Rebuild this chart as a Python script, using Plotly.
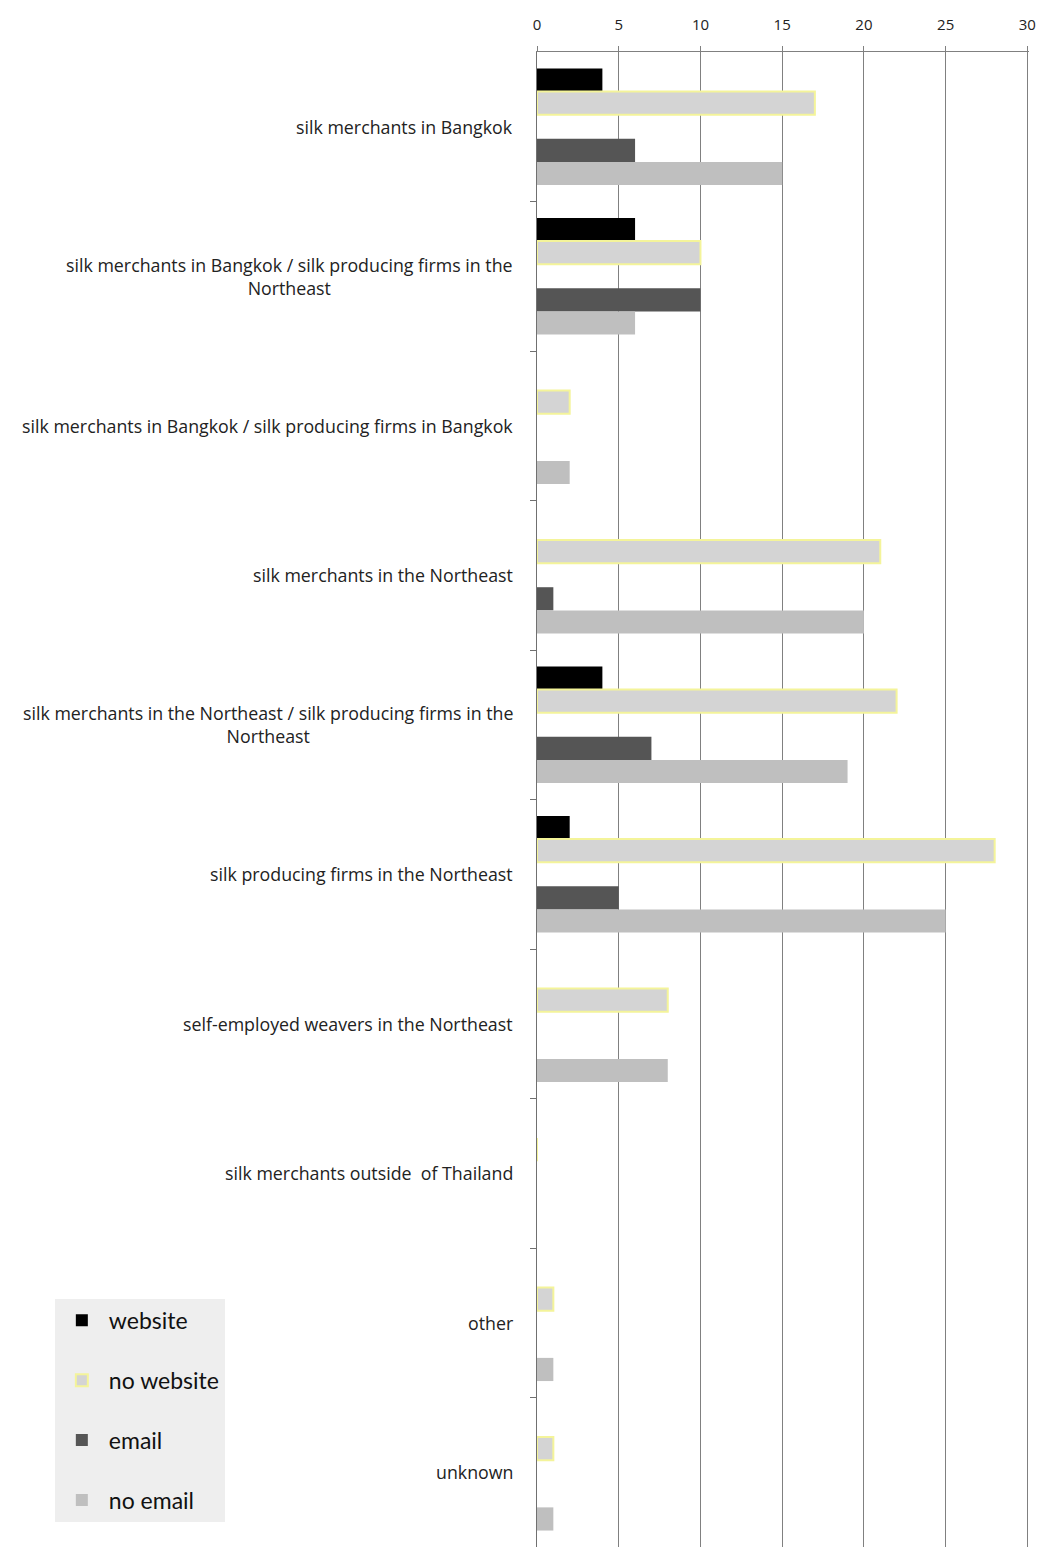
import plotly.graph_objects as go

categories = [
    "silk merchants in Bangkok",
    "silk merchants in Bangkok / silk producing firms in the<br>Northeast",
    "silk merchants in Bangkok / silk producing firms in Bangkok",
    "silk merchants in the Northeast",
    "silk merchants in the Northeast / silk producing firms in the<br>Northeast",
    "silk producing firms in the Northeast",
    "self-employed weavers in the Northeast",
    "silk merchants outside  of Thailand",
    "other",
    "unknown",
]
website = [4, 6, 0, 0, 4, 2, 0, 0, 0, 0]
no_website = [17, 10, 2, 21, 22, 28, 8, 0, 1, 1]
email = [6, 10, 0, 1, 7, 5, 0, 0, 0, 0]
no_email = [15, 6, 2, 20, 19, 25, 8, 0, 1, 1]
x_ticks = [0, 5, 10, 15, 20, 25, 30]

FONT = "'Open Sans', sans-serif"
W = 0.155
series = [
    ("website", website, "#000000", dict(color="#000000", width=0), -0.39),
    ("no website", no_website, "#d4d4d4", dict(color="#f4f49a", width=2), -0.235),
    ("email", email, "#555555", dict(color="#555555", width=0), 0.08),
    ("no email", no_email, "#bfbfbf", dict(color="#bfbfbf", width=0), 0.235),
]

fig = go.Figure()
for i, (name, vals, col, line, off) in enumerate(series):
    fig.add_trace(go.Bar(
        x=vals, y=list(range(len(categories))), orientation="h", name=name,
        marker=dict(color=col, line=line), width=W, offset=off,
        legendgroup=f"g{i}",
    ))

for i, c in enumerate(categories):
    fig.add_annotation(
        x=-0.045, xref="paper", y=i, yref="y", text=c, showarrow=False,
        xanchor="right", yanchor="middle", align="center",
        font=dict(family=FONT, size=17.8, color="#222222"),
    )

fig.update_layout(
    width=1029, height=1539,
    margin=dict(l=529, r=8, t=44, b=0),
    plot_bgcolor="white", paper_bgcolor="white",
    barmode="overlay",
    font=dict(family=FONT, size=15, color="#222222"),
    showlegend=True,
    legend=dict(
        x=-0.98, y=0.166, xanchor="left", yanchor="top",
        bgcolor="#eeeeee", font=dict(family="Lato, sans-serif", size=23, color="#111111"),
        tracegroupgap=27, itemwidth=44,
    ),
    xaxis=dict(
        side="top", range=[0, 30.1], tickvals=x_ticks, ticktext=[str(v) for v in x_ticks],
        showgrid=True, gridcolor="#808080", gridwidth=1,
        showline=True, linecolor="#808080", ticks="outside", ticklen=5, tickcolor="#808080",
        zeroline=False, tickfont=dict(family=FONT, size=15, color="#222222"),
        ticklabelstandoff=10,
    ),
    yaxis=dict(
        range=[len(categories) - 0.5, -0.5],
        tickvals=[i + 0.5 for i in range(len(categories) - 1)], ticktext=[""] * (len(categories) - 1),
        showgrid=False, showline=True, linecolor="#707070", linewidth=1,
        ticks="outside", ticklen=6, tickcolor="#707070", zeroline=False,
    ),
)

fig.write_html("out.html")
